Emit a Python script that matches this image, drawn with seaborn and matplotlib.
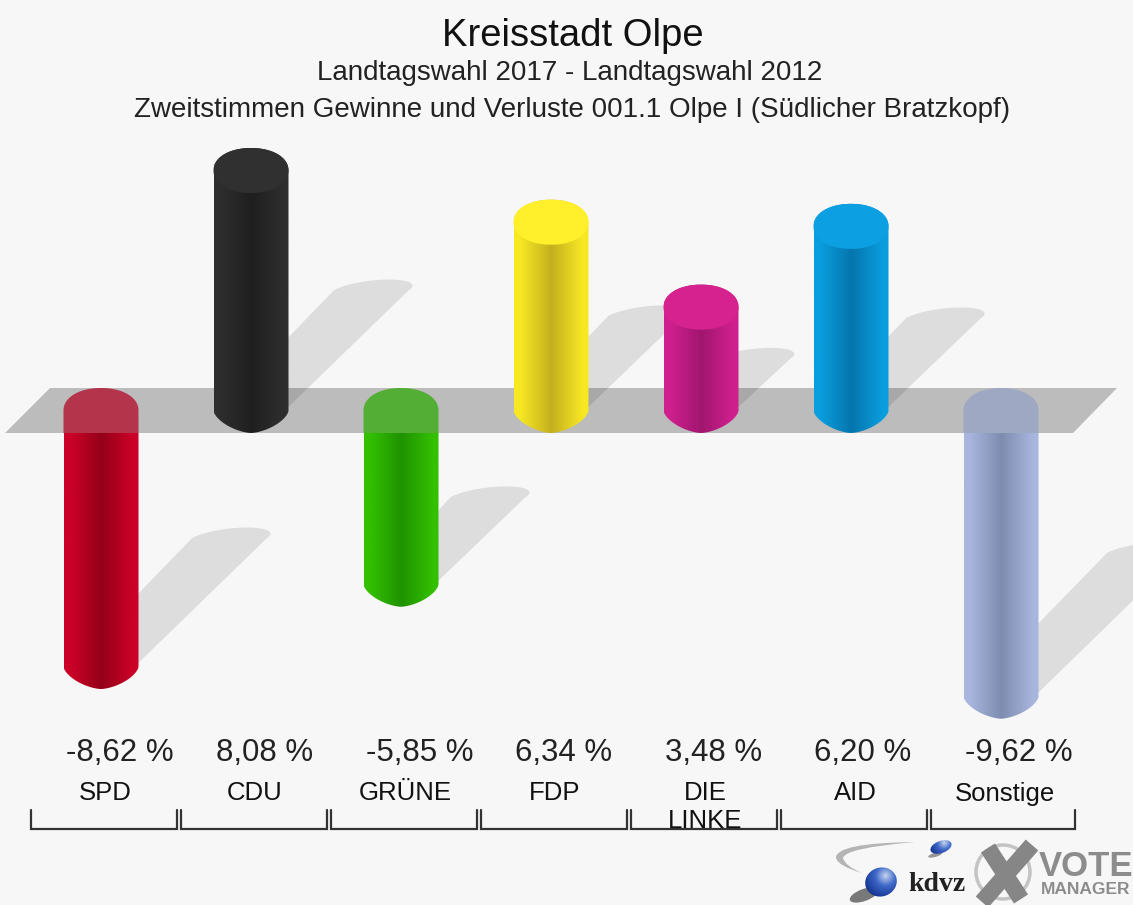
#!/usr/bin/env python3
"""Landtagswahl 2017 vs 2012, Olpe: cylinder style gain/loss chart."""

import numpy as np
import pandas as pd
import matplotlib
matplotlib.use("Agg")
import matplotlib.pyplot as plt
from matplotlib.colors import LinearSegmentedColormap, to_rgb
from matplotlib.patches import Polygon, Circle, Ellipse, PathPatch
from matplotlib.path import Path
import seaborn as sns

# --- Data ---
parties = ["SPD", "CDU", "GRÜNE", "FDP", "DIE\nLINKE", "AID", "Sonstige"]
values = [-8.62, 8.08, -5.85, 6.34, 3.48, 6.20, -9.62]
value_labels = ["-8,62 %", "8,08 %", "-5,85 %", "6,34 %", "3,48 %", "6,20 %", "-9,62 %"]
bar_colors = ["#cc0028", "#2e2e2e", "#33c000", "#f8e824", "#d01f8e", "#0a9ede", "#a8b6de"]
dark_colors = ["#940018", "#1f1f1f", "#1f9200", "#c4b01e", "#a0166e", "#0575ad", "#7e8cb0"]
cap_colors = ["#cc0028", "#303030", "#33c000", "#fff02b", "#d6228f", "#0ca0e3", "#a8b6de"]
label_shift = [19, 14, 19, 13, 13, 12, 18]

BG = "#f7f7f7"
PX_PER_CAT = 150.0
PX_PER_UNIT = 29.7
X0_PX = 101.0
Y0_PX = 410.5
CAP_H = 22.5 / PX_PER_UNIT


def xd(px):
    return (px - X0_PX) / PX_PER_CAT


def yd(px):
    return (Y0_PX - px) / PX_PER_UNIT


def arc(cx, cy, rx, ry, p, up=True):
    # superellipse half, right to left if up, left to right if not
    t = np.linspace(0, np.pi, 60)
    xs = np.sign(np.cos(t)) * np.abs(np.cos(t)) ** (2 / p)
    ys = np.abs(np.sin(t)) ** (2 / p)
    if up:
        return np.column_stack([cx + rx * xs, cy + ry * ys])
    return np.column_stack([cx - rx * xs, cy - ry * ys])


# --- Figure ---
sns.set_theme(style="white")
plt.rcParams["font.family"] = ["Liberation Sans", "DejaVu Sans"]

fig = plt.figure(figsize=(11.33, 9.05), dpi=100, facecolor=BG)
ax = fig.add_axes([0, 0, 1, 1])
ax.set_facecolor(BG)

df = pd.DataFrame({"party": parties, "value": values})
sns.barplot(data=df, x="party", y="value", hue="party", palette=bar_colors,
            width=0.5, legend=False, ax=ax)
bars = sorted(ax.patches, key=lambda p: p.get_x())

xlim = (xd(0), xd(1133))
ylim = (yd(905), yd(0))

# Grey zero plane
ax.add_patch(Polygon([(xd(5), -CAP_H), (xd(50), CAP_H), (xd(1117), CAP_H), (xd(1073), -CAP_H)],
                     closed=True, fc="#bcbcbc", ec="none", zorder=1))

for i, patch in enumerate(bars):
    v = values[i]
    w = patch.get_width()
    cx = patch.get_x() + w / 2
    rx = w / 2
    patch.set_visible(False)

    # Shadow, half as long as the bar, leaning 45 degrees
    base_y = min(v, 0)
    h = abs(v) / 2
    shift = h * PX_PER_UNIT / PX_PER_CAT
    lean = 18 / PX_PER_CAT
    t = np.linspace(0, 2 * np.pi, 120)
    top = np.array([[cx + shift + rx * np.cos(a) + lean * np.sin(a),
                     base_y + h + 0.37 * np.sin(a)] for a in t[:60]])
    bottom = np.array([[cx + 0.9 * rx * np.cos(a), base_y + 0.37 * np.sin(a)] for a in t[60:]])
    ax.add_patch(Polygon(np.vstack([top, bottom]), closed=True, fc="black", ec="none",
                         alpha=0.1, zorder=2))

    # Cylinder body
    cmap = LinearSegmentedColormap.from_list(
        "cyl", [(0, bar_colors[i]), (0.08, bar_colors[i]), (0.5, dark_colors[i]),
                (0.92, bar_colors[i]), (1, bar_colors[i])])
    grad = np.linspace(0, 1, 256)[np.newaxis, :]
    if v > 0:
        body = np.vstack([arc(cx, v, rx, CAP_H, 2.1, True), arc(cx, 0, rx, CAP_H, 1.6, False)])
        y_top = v + CAP_H
    else:
        body = np.vstack([[(cx + rx, -CAP_H), (cx - rx, -CAP_H)], arc(cx, v, rx, CAP_H, 1.6, False)])
        y_top = -CAP_H
    im = ax.imshow(grad, extent=(cx - rx, cx + rx, v - CAP_H if v < 0 else -CAP_H, y_top),
                   aspect="auto", cmap=cmap, zorder=3)
    im.set_clip_path(Polygon(body, closed=True, transform=ax.transData))

    if v > 0:
        # lighter top face
        face = np.vstack([arc(cx, v, rx, CAP_H, 2.1, True), arc(cx, v, rx, CAP_H, 2.1, False)])
        ax.add_patch(Polygon(face, closed=True, fc=cap_colors[i], ec="none", zorder=4))
    else:
        # top of a falling bar shows the plane through it
        mid = (np.array(to_rgb(bar_colors[i])) + np.array(to_rgb(dark_colors[i]))) / 2
        cap = np.vstack([arc(cx, 0, rx, CAP_H, 2.1, True), [(cx - rx, -CAP_H), (cx + rx, -CAP_H)]])
        ax.add_patch(Polygon(cap, closed=True, fc=mid, ec="none", alpha=0.72, zorder=4))

    # Labels and brackets
    ax.text(i + label_shift[i] / PX_PER_CAT, yd(753), value_labels[i], ha="center", va="center",
            fontsize=22.5, color="#222222", zorder=6)
    name = parties[i].split("\n")
    ax.text(i + 4 / PX_PER_CAT, yd(793.5), name[0], ha="center", va="center",
            fontsize=18.5, color="#111111", zorder=6)
    if len(name) > 1:
        ax.text(i + 4 / PX_PER_CAT, yd(821), name[1], ha="center", va="center",
                fontsize=18.5, color="#111111", zorder=6)
    x_end = 176.5 - 101 if i < 6 else 1075 - 1001
    ax.plot([i - 70.5 / PX_PER_CAT, i - 70.5 / PX_PER_CAT, i + x_end / PX_PER_CAT, i + x_end / PX_PER_CAT],
            [yd(810), yd(829), yd(829), yd(810)], color="#333333", lw=1.6, zorder=5,
            solid_joinstyle="miter")

ax.set_xlim(xlim)
ax.set_ylim(ylim)
ax.axis("off")

# --- Titles ---
fig.text(573 / 1133, 1 - 36 / 905, "Kreisstadt Olpe", ha="center", va="center", fontsize=27.5, color="#111111")
fig.text(570 / 1133, 1 - 73 / 905, "Landtagswahl 2017 - Landtagswahl 2012", ha="center", va="center",
         fontsize=20, color="#222222")
fig.text(572 / 1133, 1 - 110 / 905, "Zweitstimmen Gewinne und Verluste 001.1 Olpe I (Südlicher Bratzkopf)",
         ha="center", va="center", fontsize=20, color="#222222")

# --- Logos, in pixel coordinates ---
logo = fig.add_axes([0, 0, 1, 1], facecolor="none")
logo.axis("off")

swoosh = PathPatch(Path([(915, 842), (835, 843), (836, 858), (838, 866), (862, 873),
                         (845, 866), (843, 858), (845, 848), (915, 842)],
                        [Path.MOVETO, Path.CURVE3, Path.CURVE3, Path.CURVE3, Path.CURVE3,
                         Path.CURVE3, Path.CURVE3, Path.CURVE3, Path.CURVE3]),
                   fc="#b5b5b5", ec="none")
logo.add_patch(swoosh)
logo.add_patch(Ellipse((864, 895), 30, 12, angle=-20, fc="#444444", ec="none", alpha=0.7))
logo.add_patch(Ellipse((935, 855), 14, 4, angle=-15, fc="#555555", ec="none", alpha=0.6))

yy, xx = np.mgrid[0:1:64j, 0:1:64j]
rr = np.hypot(xx - 0.65, yy - 0.3)
sphere = LinearSegmentedColormap.from_list("sph", ["#c5d4ee", "#3f68c8", "#1c3f9e", "#0e2468"])
for (sx, sy, sr, ratio) in [(881, 882, 16, 0.9), (941, 847, 11, 0.55)]:
    im = logo.imshow(rr, extent=(sx - sr, sx + sr, sy + sr, sy - sr), cmap=sphere, aspect="auto", zorder=3)
    im.set_clip_path(Ellipse((sx, sy), 2 * sr, 2 * sr * ratio, angle=-20, transform=logo.transData))
logo.set_xlim(0, 1133)
logo.set_ylim(905, 0)

logo.text(937, 884, "kdvz", ha="center", va="center", fontsize=20, fontweight="bold",
          family="Liberation Serif", color="#222222")
logo.add_patch(Circle((1003, 872), 27, fc="none", ec="#c4c4c4", lw=2.5))
logo.plot([988, 1021], [848, 899], color="#868686", lw=12, solid_capstyle="butt")
logo.plot([1032, 982], [845, 902], color="#868686", lw=12, solid_capstyle="butt")
logo.text(1086, 866, "VOTE", ha="center", va="center", fontsize=25, fontweight="bold", color="#8c8c8c")
logo.text(1086, 889.5, "MANAGER", ha="center", va="center", fontsize=12.5, fontweight="bold", color="#8c8c8c")

fig.savefig("out.png", dpi=100, facecolor=BG)
